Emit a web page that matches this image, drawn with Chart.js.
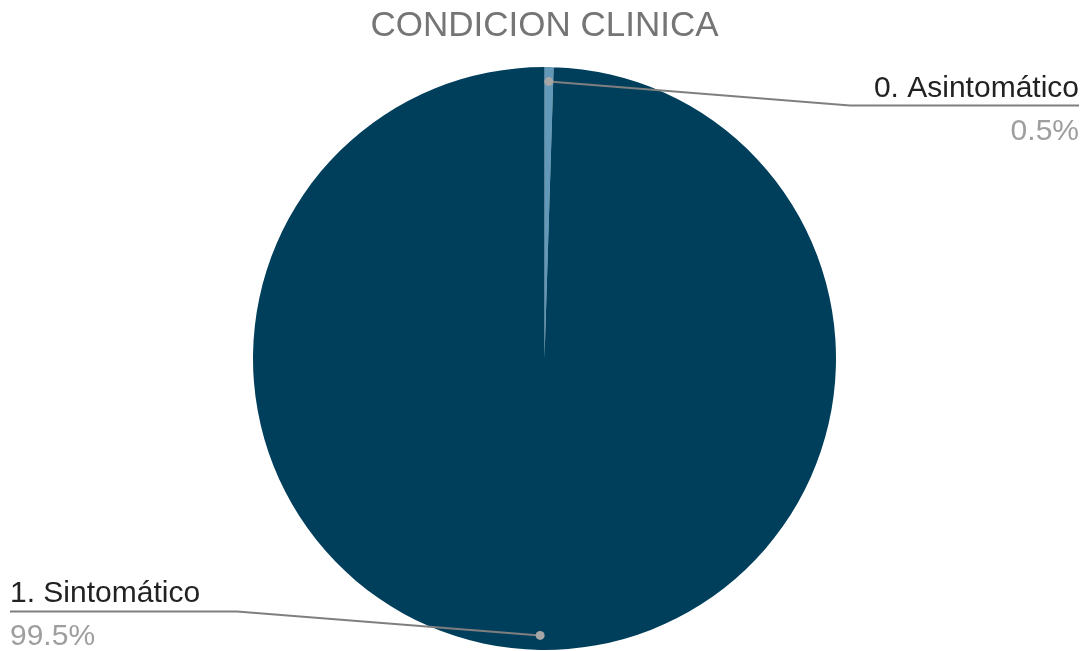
<!DOCTYPE html>
<html>
<head>
<meta charset="utf-8">
<script src="https://cdn.jsdelivr.net/npm/chart.js@4.4.0/dist/chart.umd.min.js"></script>
<style>
  html, body { margin: 0; padding: 0; background: #fff; }
  #wrap { width: 1089px; height: 651px; }
</style>
</head>
<body>
<div id="wrap"><canvas id="pie-chart"></canvas></div>
<script>
const chartTitle = 'CONDICION CLINICA';
const categories = ['0. Asintomático', '1. Sintomático'];
const values = [0.5, 99.5];
const pctLabels = ['0.5%', '99.5%'];
const sliceColors = ['#6299b9', '#003f5c'];

// etiquetas con líneas guía, estilo hoja de cálculo
const leaderLabels = {
    id: 'leaderLabels',
    afterDraw(chart) {
        const ctx = chart.ctx;
        const W = chart.width;
        const arcs = chart.getDatasetMeta(0).data;
        ctx.save();
        // título
        ctx.font = '35px "Liberation Sans", Arial, sans-serif';
        ctx.fillStyle = '#757575';
        ctx.textAlign = 'center';
        ctx.textBaseline = 'alphabetic';
        ctx.fillText(chartTitle, W / 2, 36);

        arcs.forEach((arc, i) => {
            const p = arc.getProps(['x', 'y', 'startAngle', 'endAngle', 'outerRadius'], true);
            const mid = (p.startAngle + p.endAngle) / 2;
            const r = p.outerRadius * 0.95;
            const px = p.x + Math.cos(mid) * r;
            const py = p.y + Math.sin(mid) * r;
            const right = Math.cos(mid) >= 0;
            const ey = py + (py < p.y ? 24 : -24);
            const ex = right ? W - 239 : 237;
            const endX = right ? W - 10 : 10;

            ctx.strokeStyle = '#7f7f7f';
            ctx.lineWidth = 2;
            ctx.beginPath();
            ctx.moveTo(px, py);
            ctx.lineTo(ex, ey);
            ctx.lineTo(endX, ey);
            ctx.stroke();

            ctx.fillStyle = '#a6a6a6';
            ctx.beginPath();
            ctx.arc(px, py, 4.5, 0, Math.PI * 2);
            ctx.fill();

            ctx.textAlign = right ? 'right' : 'left';
            ctx.font = '30px "Liberation Sans", Arial, sans-serif';
            ctx.fillStyle = '#222222';
            ctx.fillText(categories[i], endX, ey - 9);
            ctx.fillStyle = '#9e9e9e';
            ctx.fillText(pctLabels[i], endX, ey + 34);
        });
        ctx.restore();
    }
};

const ctxPie = document.getElementById('pie-chart').getContext('2d');
const pieChart = new Chart(ctxPie, {
    type: 'pie',
    data: {
        labels: categories,
        datasets: [{
            data: values,
            backgroundColor: sliceColors,
            borderWidth: 0
        }]
    },
    options: {
        responsive: true,
        maintainAspectRatio: false,
        animation: false,
        layout: { padding: { top: 67, bottom: 1 } },
        plugins: {
            legend: { display: false },
            title: { display: false },
            tooltip: { enabled: false }
        }
    },
    plugins: [leaderLabels]
});
</script>
</body>
</html>
